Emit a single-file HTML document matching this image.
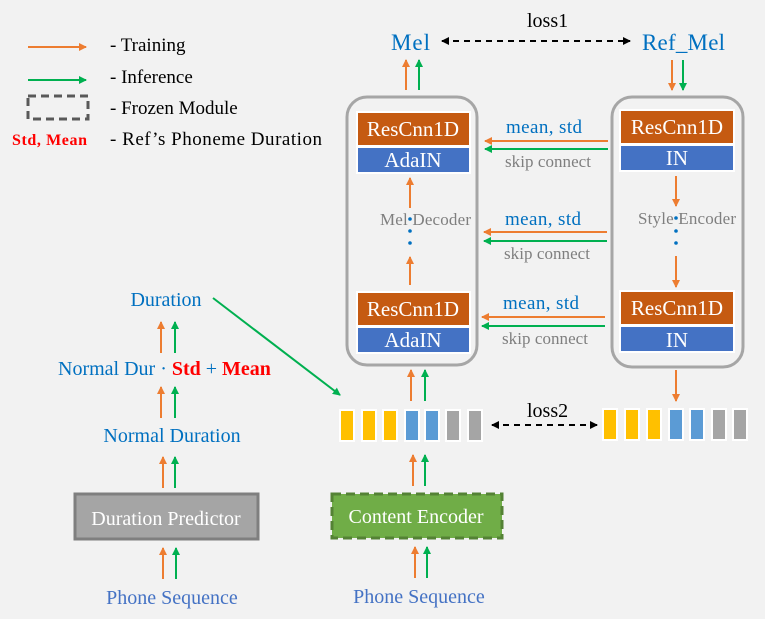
<!DOCTYPE html>
<html><head><meta charset="utf-8"><style>
html,body{margin:0;padding:0;background:#f2f2f2;}
svg{display:block;}
text{font-family:"Liberation Serif",serif;}
</style></head><body>
<svg width="765" height="619" viewBox="0 0 765 619" xmlns="http://www.w3.org/2000/svg">
<defs>
<marker id="ao" markerWidth="8" markerHeight="8" refX="7" refY="4" orient="auto" markerUnits="userSpaceOnUse"><path d="M0,0 L8,4 L0,8 z" fill="#ed7d31"/></marker>
<marker id="ag" markerWidth="8" markerHeight="8" refX="7" refY="4" orient="auto" markerUnits="userSpaceOnUse"><path d="M0,0 L8,4 L0,8 z" fill="#00b050"/></marker>
<marker id="ak" markerWidth="8" markerHeight="8" refX="7" refY="4" orient="auto" markerUnits="userSpaceOnUse"><path d="M0,0 L8,4 L0,8 z" fill="#000"/></marker>
<marker id="aks" markerWidth="8" markerHeight="8" refX="1" refY="4" orient="auto" markerUnits="userSpaceOnUse"><path d="M8,0 L0,4 L8,8 z" fill="#000"/></marker>
</defs>
<rect width="765" height="619" fill="#f2f2f2"/>

<!-- Legend -->
<line x1="28" y1="47" x2="86" y2="47" stroke="#ed7d31" stroke-width="2" marker-end="url(#ao)"/>
<line x1="28" y1="80" x2="86" y2="80" stroke="#00b050" stroke-width="2" marker-end="url(#ag)"/>
<rect x="28" y="96" width="60" height="23" fill="none" stroke="#595959" stroke-width="3" stroke-dasharray="8,5"/>
<text x="12" y="145" font-size="16" font-weight="bold" fill="#ff0000" textLength="75">Std, Mean</text>
<g font-size="19" fill="#000">
<text x="110" y="51">- Training</text>
<text x="110" y="83">- Inference</text>
<text x="110" y="114">- Frozen Module</text>
<text x="110" y="145" textLength="212">- Ref’s Phoneme Duration</text>
</g>

<!-- Top -->
<text x="391" y="50" font-size="23" fill="#0070c0" textLength="39">Mel</text>
<text x="642" y="50" font-size="23" fill="#0070c0" textLength="83">Ref_Mel</text>
<text x="527" y="27" font-size="20" fill="#000">loss1</text>
<line x1="442" y1="41" x2="630" y2="41" stroke="#000" stroke-width="2" stroke-dasharray="6,5" marker-start="url(#aks)" marker-end="url(#ak)"/>
<line x1="406" y1="90" x2="406" y2="60" stroke="#ed7d31" stroke-width="2" marker-end="url(#ao)"/>
<line x1="419" y1="90" x2="419" y2="60" stroke="#00b050" stroke-width="2" marker-end="url(#ag)"/>
<line x1="672" y1="60" x2="672" y2="90" stroke="#ed7d31" stroke-width="2" marker-end="url(#ao)"/>
<line x1="683" y1="60" x2="683" y2="90" stroke="#00b050" stroke-width="2" marker-end="url(#ag)"/>

<!-- Containers -->
<rect x="347" y="97" width="130" height="268" rx="20" fill="none" stroke="#a6a6a6" stroke-width="3"/>
<rect x="612" y="97" width="131" height="270" rx="20" fill="none" stroke="#a6a6a6" stroke-width="3"/>

<g stroke="#fff" stroke-width="2">
<rect x="357" y="112" width="113" height="34" fill="#c55a11"/>
<rect x="357" y="147" width="113" height="26" fill="#4472c4"/>
<rect x="357" y="292" width="113" height="34" fill="#c55a11"/>
<rect x="357" y="327" width="113" height="26" fill="#4472c4"/>
<rect x="620" y="110" width="114" height="34" fill="#c55a11"/>
<rect x="620" y="145" width="114" height="26" fill="#4472c4"/>
<rect x="620" y="291" width="114" height="34" fill="#c55a11"/>
<rect x="620" y="326" width="114" height="26" fill="#4472c4"/>
</g>
<g font-size="21" fill="#fff" text-anchor="middle">
<text x="413" y="136">ResCnn1D</text>
<text x="413" y="167">AdaIN</text>
<text x="413" y="316">ResCnn1D</text>
<text x="413" y="347">AdaIN</text>
<text x="677" y="134">ResCnn1D</text>
<text x="677" y="165">IN</text>
<text x="677" y="315">ResCnn1D</text>
<text x="677" y="347">IN</text>
</g>

<!-- inner arrows -->
<line x1="410" y1="208" x2="410" y2="178" stroke="#ed7d31" stroke-width="2" marker-end="url(#ao)"/>
<line x1="410" y1="285" x2="410" y2="257" stroke="#ed7d31" stroke-width="2" marker-end="url(#ao)"/>
<line x1="676" y1="176" x2="676" y2="206" stroke="#ed7d31" stroke-width="2" marker-end="url(#ao)"/>
<line x1="676" y1="256" x2="676" y2="287" stroke="#ed7d31" stroke-width="2" marker-end="url(#ao)"/>
<text x="380" y="225" font-size="17" fill="#7f7f7f" textLength="91">Mel Decoder</text>
<text x="638" y="224" font-size="17" fill="#7f7f7f" textLength="98">Style Encoder</text>
<g fill="#0070c0"><circle cx="410" cy="219" r="1.8"/><circle cx="410" cy="231" r="1.8"/><circle cx="410" cy="243" r="1.8"/>
<circle cx="676" cy="218" r="1.8"/><circle cx="676" cy="231" r="1.8"/><circle cx="676" cy="243" r="1.8"/></g>

<!-- skip connections -->
<g font-size="19" fill="#0070c0">
<text x="506" y="133" textLength="76">mean, std</text>
<text x="505" y="225" textLength="76">mean, std</text>
<text x="503" y="309" textLength="76">mean, std</text>
</g>
<g font-size="17" fill="#7f7f7f">
<text x="505" y="167" textLength="86">skip connect</text>
<text x="504" y="259" textLength="86">skip connect</text>
<text x="502" y="344" textLength="86">skip connect</text>
</g>
<line x1="608" y1="141" x2="485" y2="141" stroke="#ed7d31" stroke-width="2" marker-end="url(#ao)"/>
<line x1="608" y1="149" x2="485" y2="149" stroke="#00b050" stroke-width="2" marker-end="url(#ag)"/>
<line x1="607" y1="232" x2="484" y2="232" stroke="#ed7d31" stroke-width="2" marker-end="url(#ao)"/>
<line x1="607" y1="241" x2="484" y2="241" stroke="#00b050" stroke-width="2" marker-end="url(#ag)"/>
<line x1="605" y1="317" x2="482" y2="317" stroke="#ed7d31" stroke-width="2" marker-end="url(#ao)"/>
<line x1="605" y1="326" x2="482" y2="326" stroke="#00b050" stroke-width="2" marker-end="url(#ag)"/>

<!-- below containers -->
<line x1="411" y1="401" x2="411" y2="370" stroke="#ed7d31" stroke-width="2" marker-end="url(#ao)"/>
<line x1="425" y1="401" x2="425" y2="370" stroke="#00b050" stroke-width="2" marker-end="url(#ag)"/>
<line x1="676" y1="370" x2="676" y2="401" stroke="#ed7d31" stroke-width="2" marker-end="url(#ao)"/>

<!-- tokens -->
<g stroke="#fff" stroke-width="2">
<rect x="340" y="410" width="14" height="31" fill="#ffc000"/>
<rect x="362" y="410" width="14" height="31" fill="#ffc000"/>
<rect x="383" y="410" width="14" height="31" fill="#ffc000"/>
<rect x="405" y="410" width="14" height="31" fill="#5b9bd5"/>
<rect x="425" y="410" width="14" height="31" fill="#5b9bd5"/>
<rect x="446" y="410" width="14" height="31" fill="#a5a5a5"/>
<rect x="468" y="410" width="14" height="31" fill="#a5a5a5"/>
<rect x="603" y="409" width="14" height="31" fill="#ffc000"/>
<rect x="625" y="409" width="14" height="31" fill="#ffc000"/>
<rect x="647" y="409" width="14" height="31" fill="#ffc000"/>
<rect x="669" y="409" width="14" height="31" fill="#5b9bd5"/>
<rect x="690" y="409" width="14" height="31" fill="#5b9bd5"/>
<rect x="712" y="409" width="14" height="31" fill="#a5a5a5"/>
<rect x="733" y="409" width="14" height="31" fill="#a5a5a5"/>
</g>
<text x="527" y="417" font-size="20" fill="#000">loss2</text>
<line x1="492" y1="425" x2="597" y2="425" stroke="#000" stroke-width="2" stroke-dasharray="6,5" marker-start="url(#aks)" marker-end="url(#ak)"/>

<!-- Content encoder column -->
<line x1="413" y1="486" x2="413" y2="455" stroke="#ed7d31" stroke-width="2" marker-end="url(#ao)"/>
<line x1="425" y1="486" x2="425" y2="455" stroke="#00b050" stroke-width="2" marker-end="url(#ag)"/>
<rect x="332" y="494" width="170" height="44" fill="#70ad47" stroke="#548235" stroke-width="3" stroke-dasharray="9,5"/>
<text x="416" y="523" font-size="20" fill="#fff" text-anchor="middle">Content Encoder</text>
<line x1="415" y1="578" x2="415" y2="547" stroke="#ed7d31" stroke-width="2" marker-end="url(#ao)"/>
<line x1="427" y1="578" x2="427" y2="547" stroke="#00b050" stroke-width="2" marker-end="url(#ag)"/>
<text x="419" y="603" font-size="20" fill="#4472c4" text-anchor="middle">Phone Sequence</text>

<!-- Duration column -->
<text x="166" y="306" font-size="20" fill="#0070c0" text-anchor="middle">Duration</text>
<line x1="213" y1="298" x2="340" y2="395" stroke="#00b050" stroke-width="2" marker-end="url(#ag)"/>
<line x1="161" y1="353" x2="161" y2="322" stroke="#ed7d31" stroke-width="2" marker-end="url(#ao)"/>
<line x1="175" y1="353" x2="175" y2="322" stroke="#00b050" stroke-width="2" marker-end="url(#ag)"/>
<text x="58" y="375" font-size="20"><tspan fill="#0070c0">Normal Dur · </tspan><tspan fill="#ff0000" font-weight="bold">Std</tspan><tspan fill="#0070c0"> + </tspan><tspan fill="#ff0000" font-weight="bold">Mean</tspan></text>
<line x1="161" y1="418" x2="161" y2="387" stroke="#ed7d31" stroke-width="2" marker-end="url(#ao)"/>
<line x1="175" y1="418" x2="175" y2="387" stroke="#00b050" stroke-width="2" marker-end="url(#ag)"/>
<text x="172" y="442" font-size="20" fill="#0070c0" text-anchor="middle">Normal Duration</text>
<line x1="163" y1="488" x2="163" y2="457" stroke="#ed7d31" stroke-width="2" marker-end="url(#ao)"/>
<line x1="175" y1="488" x2="175" y2="457" stroke="#00b050" stroke-width="2" marker-end="url(#ag)"/>
<rect x="75" y="494" width="183" height="45" fill="#a5a5a5" stroke="#7f7f7f" stroke-width="3"/>
<text x="166" y="525" font-size="20" fill="#fff" text-anchor="middle">Duration Predictor</text>
<line x1="163" y1="579" x2="163" y2="548" stroke="#ed7d31" stroke-width="2" marker-end="url(#ao)"/>
<line x1="176" y1="579" x2="176" y2="548" stroke="#00b050" stroke-width="2" marker-end="url(#ag)"/>
<text x="172" y="604" font-size="20" fill="#4472c4" text-anchor="middle">Phone Sequence</text>
</svg>
</body></html>
